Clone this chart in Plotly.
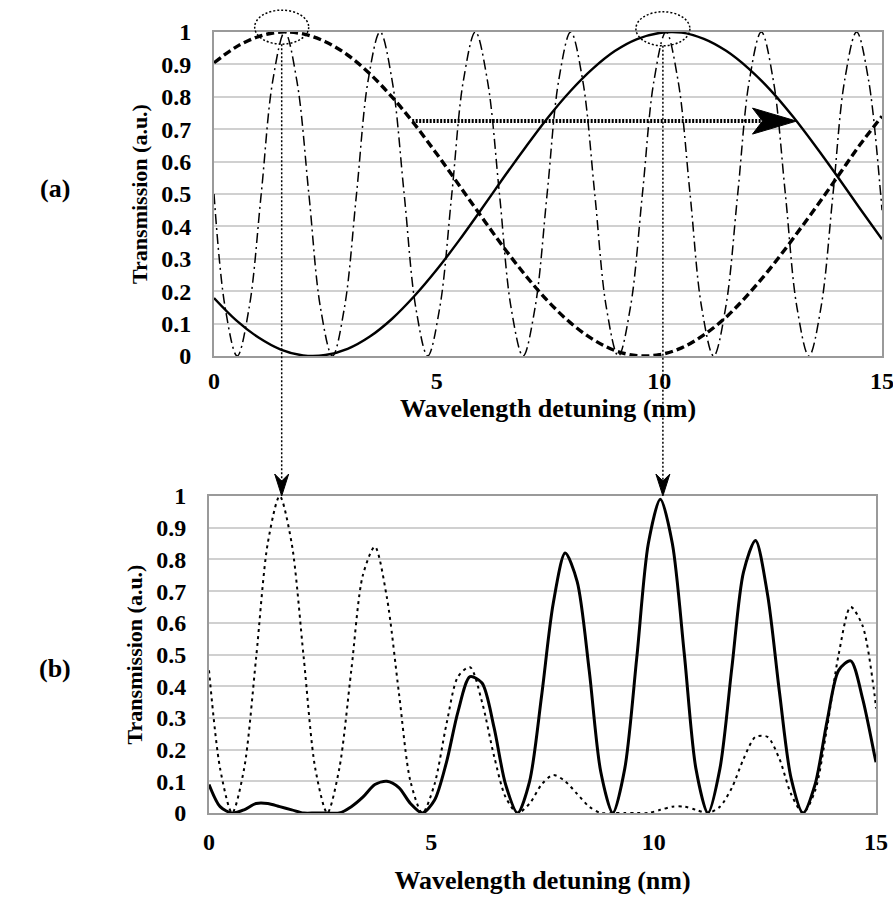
import plotly.graph_objects as go

# ---------------------------------------------------------------- data
# (a) wide filter responses, sampled every 0.5 nm
WL_COARSE = [0.0, 0.5, 1.0, 1.5, 2.0, 2.5, 3.0, 3.5, 4.0, 4.5, 5.0, 5.5, 6.0, 6.5, 7.0, 7.5,
             8.0, 8.5, 9.0, 9.5, 10.0, 10.5, 11.0, 11.5, 12.0, 12.5, 13.0, 13.5, 14.0, 14.5, 15.0]
WIDE_FILTER = [0.179, 0.110, 0.057, 0.020, 0.002, 0.003, 0.022, 0.060, 0.115, 0.185, 0.266,
               0.356, 0.452, 0.550, 0.645, 0.736, 0.817, 0.886, 0.941, 0.978, 0.997, 0.998,
               0.979, 0.942, 0.888, 0.820, 0.739, 0.649, 0.554, 0.456, 0.360]
WIDE_FILTER_TUNED = [0.905, 0.954, 0.986, 1.000, 0.994, 0.970, 0.929, 0.871, 0.799, 0.716, 0.624,
                     0.528, 0.431, 0.336, 0.248, 0.169, 0.103, 0.052, 0.017, 0.001, 0.004, 0.025,
                     0.065, 0.120, 0.191, 0.272, 0.362, 0.456, 0.553, 0.651, 0.740]

# narrow comb filter and cascaded outputs
WL_FINE = [0.00, 0.25, 0.52, 0.79, 1.06, 1.32, 1.59, 1.86, 2.13, 2.39, 2.66, 2.93, 3.20, 3.46,
           3.73, 4.00, 4.27, 4.53, 4.80, 5.07, 5.34, 5.60, 5.87, 6.14, 6.41, 6.67, 6.94, 7.21,
           7.48, 7.74, 8.01, 8.28, 8.55, 8.81, 9.08, 9.35, 9.62, 9.88, 10.15, 10.42, 10.69,
           10.95, 11.22, 11.49, 11.76, 12.02, 12.29, 12.56, 12.83, 13.09, 13.36, 13.63, 13.90,
           14.16, 14.43, 14.70, 14.97, 15.00]
COMB_FILTER = [0.50, 0.15, 0.00, 0.15, 0.50, 0.85, 1.00, 0.85, 0.50, 0.15, 0.00, 0.15, 0.50, 0.85,
               1.00, 0.85, 0.50, 0.15, 0.00, 0.15, 0.50, 0.85, 1.00, 0.85, 0.50, 0.15, 0.00, 0.15,
               0.50, 0.85, 1.00, 0.85, 0.50, 0.15, 0.00, 0.15, 0.50, 0.85, 1.00, 0.85, 0.50,
               0.15, 0.00, 0.15, 0.50, 0.85, 1.00, 0.85, 0.50, 0.15, 0.00, 0.15, 0.50,
               0.85, 1.00, 0.85, 0.50, 0.45]
OUT_WIDE = [0.09, 0.02, 0.00, 0.01, 0.03, 0.03, 0.02, 0.01, 0.00, 0.00, 0.00, 0.00, 0.02, 0.05,
            0.09, 0.10, 0.08, 0.03, 0.00, 0.04, 0.16, 0.32, 0.43, 0.41, 0.27, 0.09, 0.00, 0.10,
            0.37, 0.66, 0.82, 0.73, 0.45, 0.13, 0.00, 0.14, 0.49, 0.85, 0.99, 0.85, 0.50,
            0.14, 0.00, 0.14, 0.46, 0.76, 0.86, 0.69, 0.38, 0.11, 0.00, 0.09, 0.29,
            0.45, 0.48, 0.36, 0.18, 0.16]
OUT_TUNED = [0.45, 0.14, 0.00, 0.14, 0.49, 0.85, 1.00, 0.85, 0.49, 0.14, 0.00, 0.14, 0.45, 0.75,
             0.84, 0.68, 0.38, 0.10, 0.00, 0.09, 0.28, 0.43, 0.46, 0.35, 0.18, 0.05, 0.00, 0.03,
             0.09, 0.12, 0.10, 0.06, 0.02, 0.00, 0.00, 0.00, 0.00, 0.00, 0.01, 0.02, 0.02,
             0.01, 0.00, 0.02, 0.08, 0.17, 0.24, 0.24, 0.17, 0.06, 0.00, 0.07, 0.27,
             0.50, 0.65, 0.59, 0.37, 0.33]

Y_TICKS = [0, 0.1, 0.2, 0.3, 0.4, 0.5, 0.6, 0.7, 0.8, 0.9, 1.0]
Y_TICK_TEXT = ["0", "0.1", "0.2", "0.3", "0.4", "0.5", "0.6", "0.7", "0.8", "0.9", "1"]
X_TICKS = [0, 5, 10, 15]
X_TICK_TEXT = ["0", "5", "10", "15"]

# tuning arrow (start on tuned filter, end on untuned filter) and selected peaks
TUNE_LEVEL = 0.725
TUNE_FROM, TUNE_TO = 4.45, 13.08
PEAKS = [(1.52, 1.015), (10.08, 1.01)]

# ---------------------------------------------------------------- layout
W, H = 893, 920
X_RANGE = (0, 15)
Y_RANGE = (0, 1)
TOP_X = [214 / W, 882 / W]
TOP_Y = [1 - 356 / H, 1 - 32 / H]
BOT_X = [209 / W, 876 / W]
BOT_Y = [1 - 813 / H, 1 - 496 / H]

SERIF = "Liberation Serif"


def to_paper(x, y, xdom, ydom):
    px = xdom[0] + (x - X_RANGE[0]) / (X_RANGE[1] - X_RANGE[0]) * (xdom[1] - xdom[0])
    py = ydom[0] + (y - Y_RANGE[0]) / (Y_RANGE[1] - Y_RANGE[0]) * (ydom[1] - ydom[0])
    return px, py


fig = go.Figure()

# (a) filter transmissions
fig.add_trace(go.Scatter(x=WL_FINE, y=COMB_FILTER, mode="lines", xaxis="x", yaxis="y",
                         line=dict(color="black", width=1.5, dash="10px,4px,2px,4px",
                                   shape="spline", smoothing=1.0)))
fig.add_trace(go.Scatter(x=WL_COARSE, y=WIDE_FILTER_TUNED, mode="lines", xaxis="x", yaxis="y",
                         line=dict(color="black", width=3.4, dash="8px,4px", shape="spline")))
fig.add_trace(go.Scatter(x=WL_COARSE, y=WIDE_FILTER, mode="lines", xaxis="x", yaxis="y",
                         line=dict(color="black", width=2.4, shape="spline")))

# (b) cascaded outputs
fig.add_trace(go.Scatter(x=WL_FINE, y=OUT_TUNED, mode="lines", xaxis="x2", yaxis="y2",
                         line=dict(color="black", width=2.0, dash="3px,4px",
                                   shape="spline", smoothing=0.8)))
fig.add_trace(go.Scatter(x=WL_FINE, y=OUT_WIDE, mode="lines", xaxis="x2", yaxis="y2",
                         line=dict(color="black", width=3.0, shape="spline", smoothing=0.8)))

tick_font = dict(family=SERIF, size=24, color="black", weight="bold")
x_title_font = dict(family=SERIF, size=26, color="black", weight="bold")
y_title_font = dict(family=SERIF, size=22, color="black", weight="bold")


def x_axis(domain, anchor, standoff, title_standoff):
    return dict(domain=domain, anchor=anchor, range=list(X_RANGE), tickvals=X_TICKS,
                ticktext=X_TICK_TEXT, ticks="", showgrid=False, zeroline=False,
                showline=True, linecolor="#9a9a9a", linewidth=2, mirror=True,
                automargin=False, ticklabeloverflow="allow", tickfont=tick_font,
                ticklabelstandoff=standoff,
                title=dict(text="Wavelength detuning (nm)", font=x_title_font,
                           standoff=title_standoff))


def y_axis(domain, anchor):
    return dict(domain=domain, anchor=anchor, range=list(Y_RANGE), tickvals=Y_TICKS,
                ticktext=Y_TICK_TEXT, ticks="", showgrid=True, gridcolor="#d0d0d0",
                gridwidth=1.5, zeroline=False, showline=True, linecolor="#9a9a9a",
                linewidth=2, mirror=True, automargin=False, ticklabeloverflow="allow",
                tickfont=tick_font, ticklabelstandoff=16,
                title=dict(text="Transmission (a.u.)", font=y_title_font, standoff=8))


shapes = []
dot_line = dict(color="black", width=1.5, dash="2px,2px")

# peak-selection ellipses and the dotted drop lines into panel (b)
RX, RY = 27 / W, 17 / H
for (px_d, py_d) in PEAKS:
    cx, cy = to_paper(px_d, py_d, TOP_X, TOP_Y)
    shapes.append(dict(type="circle", xref="paper", yref="paper",
                       x0=cx - RX, x1=cx + RX, y0=cy - RY, y1=cy + RY,
                       line=dot_line, layer="above"))
    tip_y = BOT_Y[1]
    shapes.append(dict(type="line", xref="paper", yref="paper",
                       x0=cx, x1=cx, y0=cy - RY, y1=tip_y + 14 / H,
                       line=dot_line, layer="above"))
    hw, hl, notch = 7 / W, 22 / H, 15 / H
    shapes.append(dict(type="path", xref="paper", yref="paper", layer="above",
                       path=(f"M {cx},{tip_y} L {cx - hw},{tip_y + hl} L {cx},{tip_y + notch} "
                             f"L {cx + hw},{tip_y + hl} Z"),
                       fillcolor="black", line=dict(color="black", width=1)))

# tuning arrow in panel (a)
sx, sy = to_paper(TUNE_FROM, TUNE_LEVEL, TOP_X, TOP_Y)
tx, ty = to_paper(TUNE_TO, TUNE_LEVEL, TOP_X, TOP_Y)
head_len, head_half, head_notch = 44 / W, 13 / H, 34 / W
shapes.append(dict(type="line", xref="paper", yref="paper", x0=sx, x1=tx - head_notch,
                   y0=sy, y1=ty, line=dict(color="black", width=4, dash="2px,1.5px"),
                   layer="above"))
shapes.append(dict(type="path", xref="paper", yref="paper", layer="above",
                   path=(f"M {tx},{ty} L {tx - head_len},{ty + head_half} "
                         f"L {tx - head_notch},{ty} L {tx - head_len},{ty - head_half} Z"),
                   fillcolor="black", line=dict(color="black", width=1)))

panel_font = dict(family=SERIF, size=26, color="black", weight="bold")
annotations = [
    dict(text="(a)", x=55 / W, y=1 - 188 / H, xref="paper", yref="paper",
         showarrow=False, font=panel_font, xanchor="center", yanchor="middle"),
    dict(text="(b)", x=55 / W, y=1 - 668 / H, xref="paper", yref="paper",
         showarrow=False, font=panel_font, xanchor="center", yanchor="middle"),
]

fig.update_layout(
    width=W, height=H, margin=dict(l=0, r=0, t=0, b=0),
    paper_bgcolor="white", plot_bgcolor="white", showlegend=False,
    xaxis=x_axis(TOP_X, "y", 2, 2),
    yaxis=y_axis(TOP_Y, "x"),
    xaxis2=x_axis(BOT_X, "y2", 6, 17),
    yaxis2=y_axis(BOT_Y, "x2"),
    shapes=shapes, annotations=annotations,
)

fig.write_html("out.html")
